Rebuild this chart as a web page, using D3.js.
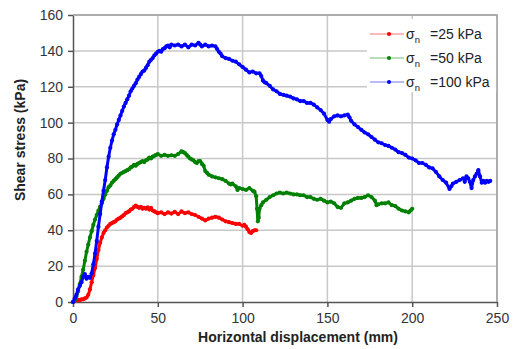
<!DOCTYPE html>
<meta charset="utf-8">
<script src="https://d3js.org/d3.v7.min.js"></script>
<style>
  body { margin: 0; background: #fff; }
  text { font-family: "Liberation Sans", Arial, sans-serif; }
</style>
<div id="chart"></div>
<script>
// displacement (mm) / shear stress (kPa)
const red25 = [[0,0],[1,0.5],[2,1],[3,1.2],[4,1],[5,1.5],[6,1.5],[7,2],[8,2.5],[9,4],[10,7],[11,11],[12,15],[13,19],[14,24],[15,29],[16,33],[17,36],[18,38.5],[19,40],[20,41.5],[21,42.5],[22,43.5],[23,44],[24,44.5],[25,45],[26,46],[27,46.5],[28,47],[29,47.8],[30,48.5],[31,49.5],[32,50],[33,50.5],[34,51.5],[35,52],[36,53],[37,53.8],[38,53],[39,52.5],[40,53],[41,52],[42,52.5],[43,52],[44,52.8],[45,51.5],[46,52.5],[47,51],[48,50.5],[49,50],[50,49.5],[52,50],[54,49],[56,50],[58,49.3],[60,50.2],[62,49],[64,50.5],[66,49.5],[68,50],[70,49],[72,48.5],[74,47.5],[76,46.5],[78,45.5],[80,46.5],[82,47],[84,47.5],[86,47],[88,46],[90,45],[92,44.5],[94,44],[96,43.5],[98,43.5],[100,42.5],[101,43],[102,42],[103,40.5],[104,39],[105,38.5],[106,39.5],[107,40],[108,40]];

const green50 = [[0,0],[1,1],[2,3],[3,6],[4,10],[5,14],[6,18],[7,23],[8,28],[9,32],[10,36],[11,39.5],[12,43],[13,46],[14,48.5],[15,51],[16,53],[17,55],[18,57.5],[19,60],[20,62],[21,64],[22,65],[23,66.5],[24,67.5],[25,68.5],[26,69.5],[27,70.5],[28,71.5],[29,72],[30,72.5],[31,73],[32,73.5],[33,74],[34,75],[35,75.5],[36,76.5],[37,76],[38,77],[39,77.5],[40,78],[41,78.5],[42,78],[43,79],[44,79.5],[45,80.5],[46,80],[47,81],[48,81.5],[49,82],[50,82.5],[52,81.5],[54,82],[56,81.5],[58,81.8],[60,81.5],[62,82.5],[64,84],[65,83.5],[66,83],[67,82],[68,81],[69,80],[70,79.5],[71,79],[72,78],[73,77.5],[74,78.5],[75,78.5],[76,77],[77,76],[78,73],[79,72],[80,71],[82,70],[84,69.5],[86,69],[88,68.5],[90,67.5],[92,66],[93,65.5],[94,66],[96,64.5],[97,62.5],[98,63.5],[100,63],[102,62.5],[104,63.5],[106,62],[107,61.5],[108,59],[108.5,52],[109,45],[109.5,47],[110,52],[111,54],[112,55.5],[114,57],[116,58.5],[118,59.5],[120,60.5],[122,61],[124,60.5],[126,61],[128,60.5],[130,60],[132,60],[134,59.5],[136,59.5],[138,58.5],[140,58.5],[142,57.5],[144,57],[146,57.5],[148,56.5],[150,55.5],[152,56],[154,55],[156,53],[158,52.5],[160,55],[162,55.5],[164,56.5],[166,57.5],[168,58],[170,58],[172,58.5],[174,59.5],[176,58.5],[178,56.5],[179,54],[180,54.5],[182,55],[184,55],[186,55.5],[188,54],[190,53.5],[192,52],[194,51],[196,50.5],[198,50],[199,51],[200,52]];

const blue100 = [[0,0],[1,2],[2,4],[3,7],[4,9],[5,11],[6,14],[7,15.5],[8,13],[9,14],[10,13.5],[11,16],[12,21],[13,27],[14,34],[15,42],[16,49],[17,56],[18,62],[19,68],[20,75],[21,81],[22,86],[23,90],[24,93.5],[25,96],[26,99],[27,101.5],[28,104],[29,106.5],[30,109],[31,111],[32,113],[33,115],[34,117.5],[35,119],[36,120.5],[37,122],[38,124],[39,125.5],[40,127],[41,128.5],[42,129],[43,130.5],[44,132],[45,134],[46,135],[47,136],[48,137.5],[49,138.5],[50,139.5],[51,140],[52,139.5],[53,141],[54,141.5],[55,142.5],[56,143],[57,142],[58,143.5],[60,143],[62,143.5],[64,142.5],[66,143.5],[68,142],[70,143.5],[72,143],[74,144.5],[75,143.5],[76,142.5],[78,143.5],[80,142.5],[82,143],[84,142.5],[85,141],[86,139.5],[87,138.5],[88,137],[90,136],[92,135.5],[94,134.5],[96,134],[98,132.5],[100,131],[102,129.5],[104,128],[106,128.5],[108,127.5],[110,127.5],[111,126],[112,123.5],[113,122.5],[114,122],[116,120.5],[118,118.5],[120,117.5],[122,116],[124,115.5],[126,115],[128,114.5],[130,113.5],[132,113],[134,112],[136,112],[138,111],[140,111],[142,110],[144,108.5],[146,107],[148,105],[150,101.5],[151,100.5],[152,102],[154,103.5],[156,104],[158,103.5],[160,104],[162,104.5],[163,103],[164,101],[166,99],[168,97.5],[170,96],[172,94.5],[174,93.5],[176,92],[178,90.5],[180,89],[182,88.5],[184,87.5],[186,87],[188,86],[190,85],[192,83.5],[194,83],[196,82],[198,80.5],[200,80],[202,79],[204,77.5],[206,77.5],[208,76.5],[210,75],[212,74.5],[214,72.5],[216,70],[218,68],[220,66.5],[222,63],[223,64.5],[224,66],[226,67],[228,68],[230,69],[231,67],[232,70],[233,69],[234,67],[235,63.5],[236,68],[237,70],[238,71.5],[239,73.5],[240,70],[241,66.5],[242,67.5],[243,66.5],[244,67.5],[245,67],[246,67.5]];

const seriesNames = ["=25 kPa", "=50 kPa", "=100 kPa"];
const seriesColors = ["#ff0000", "#008000", "#0000ff"];
const xTicks = [0, 50, 100, 150, 200, 250];
const yTicks = [0, 20, 40, 60, 80, 100, 120, 140, 160];

const W = 516, H = 349;
const m = {top: 15, right: 19, bottom: 47, left: 73};

const svg = d3.select("#chart").append("svg")
  .attr("width", W).attr("height", H);

const x = d3.scaleLinear().domain([0, 250]).range([m.left, W - m.right]);
const y = d3.scaleLinear().domain([0, 160]).range([H - m.bottom, m.top]);

// gridlines
svg.append("g").selectAll("line").data(yTicks.slice(1)).join("line")
  .attr("x1", x(0)).attr("x2", x(250))
  .attr("y1", d => y(d)).attr("y2", d => y(d))
  .attr("stroke", "#c8c8c8").attr("stroke-width", 1.5);
svg.append("g").selectAll("line").data(xTicks.slice(1)).join("line")
  .attr("x1", d => x(d)).attr("x2", d => x(d))
  .attr("y1", y(0)).attr("y2", y(160))
  .attr("stroke", "#c8c8c8").attr("stroke-width", 1.5);

// axes
const xAxis = svg.append("g")
  .attr("transform", "translate(0," + y(0) + ")")
  .call(d3.axisBottom(x).tickValues(xTicks).tickSize(5).tickSizeOuter(0).tickPadding(6));
const yAxis = svg.append("g")
  .attr("transform", "translate(" + x(0) + ",0)")
  .call(d3.axisLeft(y).tickValues(yTicks).tickSize(5).tickSizeOuter(0).tickPadding(5));
[xAxis, yAxis].forEach(a => {
  a.select(".domain").attr("stroke", "#555").attr("stroke-width", 1.5);
  a.selectAll(".tick line").attr("stroke", "#555").attr("stroke-width", 1.5);
  a.selectAll(".tick text").attr("fill", "#333").style("font-size", "14px")
    .style("font-family", "Liberation Sans, Arial, sans-serif");
});

const line = d3.line().x(d => x(d[0])).y(d => y(d[1]));
[red25, green50, blue100].forEach((s, i) => {
  svg.append("path").datum(s)
    .attr("fill", "none").attr("stroke", seriesColors[i])
    .attr("stroke-width", 3).attr("stroke-linejoin", "round")
    .attr("d", line);
  svg.append("g").selectAll("circle").data(s).join("circle")
    .attr("cx", d => x(d[0])).attr("cy", d => y(d[1])).attr("r", 2.1)
    .attr("fill", seriesColors[i]);
});

// legend
const lg = svg.append("g");
lg.append("rect").attr("x", 367).attr("y", 19).attr("width", x(250) - 367).attr("height", 73)
  .attr("fill", "#fff");
seriesNames.forEach((name, i) => {
  const ly = 34 + i * 24;
  lg.append("line").attr("x1", 370).attr("x2", 404).attr("y1", ly).attr("y2", ly)
    .attr("stroke", seriesColors[i]).attr("stroke-opacity", 0.55).attr("stroke-width", 1.2);
  lg.append("circle").attr("cx", 389).attr("cy", ly).attr("r", 2).attr("fill", seriesColors[i]);
  const t = lg.append("text").attr("x", 406).attr("y", ly + 5)
    .attr("fill", "#222").style("font-size", "14px");
  t.append("tspan").text("σ");
  t.append("tspan").attr("dy", 4).style("font-size", "9.5px").text("n");
  t.append("tspan").attr("x", 430).attr("dy", -4).text(name);
});

// plot frame (top and right)
svg.append("path")
  .attr("d", `M${x(0)},${y(160)}H${x(250)}V${y(0)}`)
  .attr("fill", "none").attr("stroke", "#a0a0a0").attr("stroke-width", 1.5);

// axis titles
svg.append("text").attr("x", 298).attr("y", 342).attr("text-anchor", "middle")
  .style("font-size", "14px").style("font-weight", "bold").attr("fill", "#222")
  .text("Horizontal displacement (mm)");
svg.append("text").attr("transform", "translate(25,140) rotate(-90)")
  .attr("text-anchor", "middle")
  .style("font-size", "14px").style("font-weight", "bold").attr("fill", "#222")
  .text("Shear stress (kPa)");
</script>
